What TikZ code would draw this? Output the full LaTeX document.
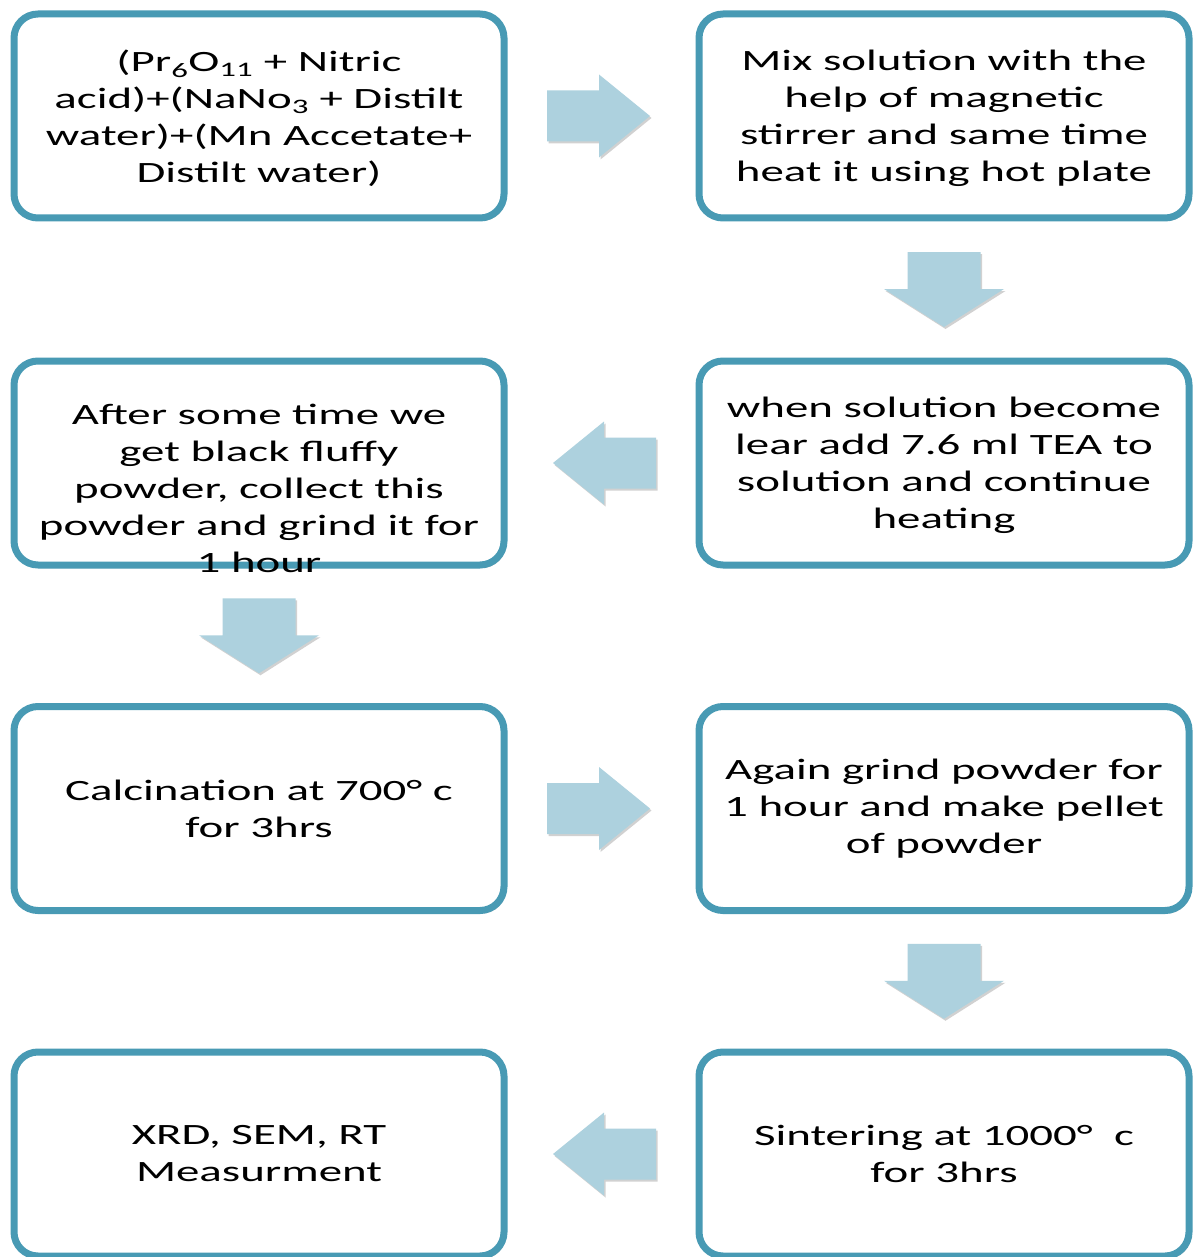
\documentclass[tikz,border=0pt]{standalone}
\usepackage{fontspec}
\setmainfont{Carlito}[FakeStretch=1.59]
\usetikzlibrary{shadows,calc}
\definecolor{boxline}{RGB}{72,154,180}
\definecolor{arrowfill}{RGB}{173,209,222}
\newcommand\hblock[3]{% from, to, direction (1 right, -1 left)
  \fill[blockarrow, shift={($(#1)!0.5!(#2)$)}, xscale=#3, xshift=-3pt]
    (-51.5,-25.5) -- (0.5,-25.5) -- (0.5,-41.5) -- (51.5,0) -- (0.5,41.5) -- (0.5,25.5) -- (-51.5,25.5) -- cycle;}
\newcommand\vblock[2]{% from, to (downwards)
  \fill[blockarrow, shift={($(#1)!0.5!(#2)$)}]
    (-36.5,37.5) -- (-36.5,0.5) -- (-60,0.5) -- (0,-37.5) -- (60,0.5) -- (36.5,0.5) -- (36.5,37.5) -- cycle;}
\begin{document}
\begin{tikzpicture}[x=1pt,y=1pt,
  stepbox/.style={draw=boxline, line width=7pt, rounded corners=24pt, fill=white,
    minimum width=490pt, minimum height=204pt, inner sep=0pt,
    drop shadow={shadow xshift=2pt, shadow yshift=-3pt, opacity=0.22, fill=black}},
  boxtext/.style={align=center, font=\fontsize{29.5}{37}\selectfont, text=black, inner sep=0pt},
  blockarrow/.style={fill=arrowfill,
    drop shadow={shadow xshift=1.5pt, shadow yshift=-2pt, opacity=0.18, fill=black}}]
\useasboundingbox (0,0) rectangle (1195,-1257);
\fill[white] (0,0) rectangle (1195,-1257);

\node[stepbox] (s1) at (259,-116) {};
\node[stepbox] (s2) at (944,-116) {};
\node[stepbox] (s3) at (944,-463) {};
\node[stepbox] (s4) at (259,-463) {};
\node[stepbox] (s5) at (259,-808.5) {};
\node[stepbox] (s6) at (944,-808.5) {};
\node[stepbox] (s7) at (944,-1154) {};
\node[stepbox] (s8) at (259,-1154) {};

\node[boxtext] (t1) at ($(s1)+(0,-2.5)$) {(Pr\textsubscript{6}O\textsubscript{11} + Nitric\\acid)+(NaNo\textsubscript{3} + Distilt\\water)+(Mn Accetate+\\Distilt water)};
\node[boxtext] (t2) at ($(s2)+(0,-2.5)$) {Mix solution with the\\help of magnetic\\stirrer and same time\\heat it using hot plate};
\node[boxtext] (t3) at ($(s3)+(0,-2)$) {when solution become\\lear add 7.6 ml TEA to\\solution and continue\\heating};
\node[boxtext] (t4) at ($(s4)+(0,-25)$) {After some time we\\get black fluffy\\powder, collect this\\powder and grind it for\\1 hour};
\node[boxtext] (t5) at (s5) {Calcination at 700° c\\for 3hrs};
\node[boxtext] (t6) at (s6) {Again grind powder for\\1 hour and make pellet\\of powder};
\node[boxtext] (t7) at (s7) {Sintering at 1000°~~c\\for 3hrs};
\node[boxtext] (t8) at (s8) {XRD, SEM, RT\\Measurment};

\hblock{s1.east}{s2.west}{1}
\vblock{s2.south}{s3.north}
\hblock{s3.west}{s4.east}{-1}
\vblock{s4.south}{s5.north}
\hblock{s5.east}{s6.west}{1}
\vblock{s6.south}{s7.north}
\hblock{s7.west}{s8.east}{-1}
\end{tikzpicture}
\end{document}
